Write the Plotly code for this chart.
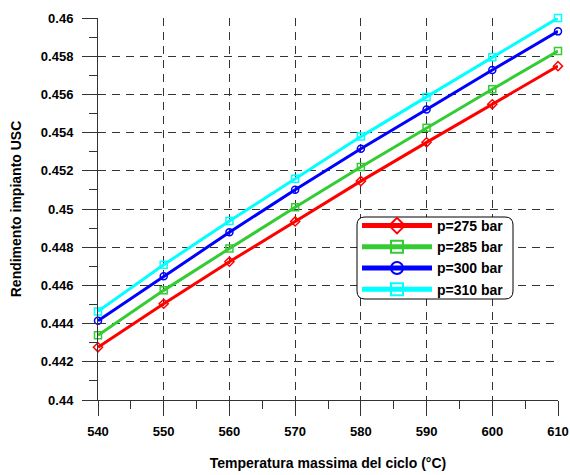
import plotly.graph_objects as go

temps = [540, 550, 560, 570, 580, 590, 600, 610]
eta_275 = [0.44276, 0.44504, 0.44724, 0.44935, 0.45146, 0.45349, 0.45548, 0.45748]
eta_285 = [0.44339, 0.44574, 0.44793, 0.45009, 0.45220, 0.45425, 0.45627, 0.45827]
eta_300 = [0.44415, 0.44648, 0.44878, 0.45101, 0.45315, 0.45521, 0.45728, 0.45930]
eta_310 = [0.44464, 0.44708, 0.44937, 0.45158, 0.45379, 0.45587, 0.45795, 0.46000]

series = [
    ("p=275 bar", eta_275, "#FF0000", "diamond-open"),
    ("p=285 bar", eta_285, "#33CC33", "square-open"),
    ("p=300 bar", eta_300, "#0000FF", "circle-open"),
    ("p=310 bar", eta_310, "#00FFFF", "square-open"),
]

FONT = "Liberation Sans, Arial, sans-serif"

fig = go.Figure()
for name, vals, col, sym in series:
    fig.add_trace(go.Scatter(
        x=temps, y=vals, name=name, mode="lines+markers",
        line=dict(color=col, width=3),
        marker=dict(symbol=sym, size=7, color=col, line=dict(color=col, width=1.5)),
        cliponaxis=False,
    ))

L, R, T, B = 98, 12, 18, 75
W, H = 570, 475
pw, ph = W - L - R, H - T - B

# legend rounded box (page pixels -> paper)
bx0, bx1, by0, by1 = 357, 513, 217, 299
def px(x): return (x - L) / pw
def py(y): return (H - B - y) / ph
r = 8
x0, x1, y0, y1 = px(bx0), px(bx1), py(by1), py(by0)
rx, ry = r / pw, r / ph
path = (f"M {x0+rx} {y0} L {x1-rx} {y0} Q {x1} {y0} {x1} {y0+ry} "
        f"L {x1} {y1-ry} Q {x1} {y1} {x1-rx} {y1} L {x0+rx} {y1} "
        f"Q {x0} {y1} {x0} {y1-ry} L {x0} {y0+ry} Q {x0} {y0} {x0+rx} {y0} Z")

GRID = "#333"
DASH = "8px,6px"

fig.update_layout(
    width=W, height=H,
    margin=dict(l=L, r=R, t=T, b=B, autoexpand=False),
    paper_bgcolor="white", plot_bgcolor="white",
    font=dict(family=FONT, size=13, color="black", weight="bold"),
    showlegend=True,
    legend=dict(
        x=px(bx0), y=py(by0 - 7), xanchor="left", yanchor="top",
        bgcolor="rgba(0,0,0,0)", borderwidth=0,
        font=dict(family=FONT, size=14, color="black", weight="bold"),
        itemwidth=70, itemsizing="constant", tracegroupgap=0,
    ),
    shapes=[dict(type="path", path=path, xref="paper", yref="paper",
                 line=dict(color="black", width=1), fillcolor="white", layer="above")],
    xaxis=dict(
        range=[540, 610], tickmode="array", tickvals=temps,
        automargin=False, ticklabelstandoff=4,
        ticks="outside", ticklen=15, tickwidth=1, tickcolor="#333",
        showline=True, linecolor="#333", linewidth=1, mirror=False,
        showgrid=True, gridcolor=GRID, griddash=DASH, gridwidth=1,
        zeroline=False,
        tickfont=dict(family=FONT, size=13, weight="bold"),
        minor=dict(dtick=5, ticks="outside", ticklen=8, tickcolor="#333", showgrid=False),
        title=dict(text="Temperatura massima del ciclo (°C)",
                   font=dict(family=FONT, size=14, weight="bold"), standoff=20),
    ),
    yaxis=dict(
        range=[0.44, 0.46], tickmode="linear", tick0=0.44, dtick=0.002,
        tickformat="~g", automargin=False, ticklabelstandoff=6,
        ticks="outside", ticklen=15, tickwidth=1, tickcolor="#333",
        showline=True, linecolor="#333", linewidth=1, mirror=False,
        showgrid=True, gridcolor=GRID, griddash=DASH, gridwidth=1,
        zeroline=False,
        tickfont=dict(family=FONT, size=13, weight="bold"),
        minor=dict(dtick=0.001, ticks="outside", ticklen=8, tickcolor="#333", showgrid=False),
        title=dict(text="Rendimento impianto USC",
                   font=dict(family=FONT, size=14, weight="bold"), standoff=15),
    ),
)

fig.write_html(
    "out.html",
    config={"displayModeBar": False},
    post_script="document.body.style.margin='0';document.body.style.overflow='hidden';",
)
